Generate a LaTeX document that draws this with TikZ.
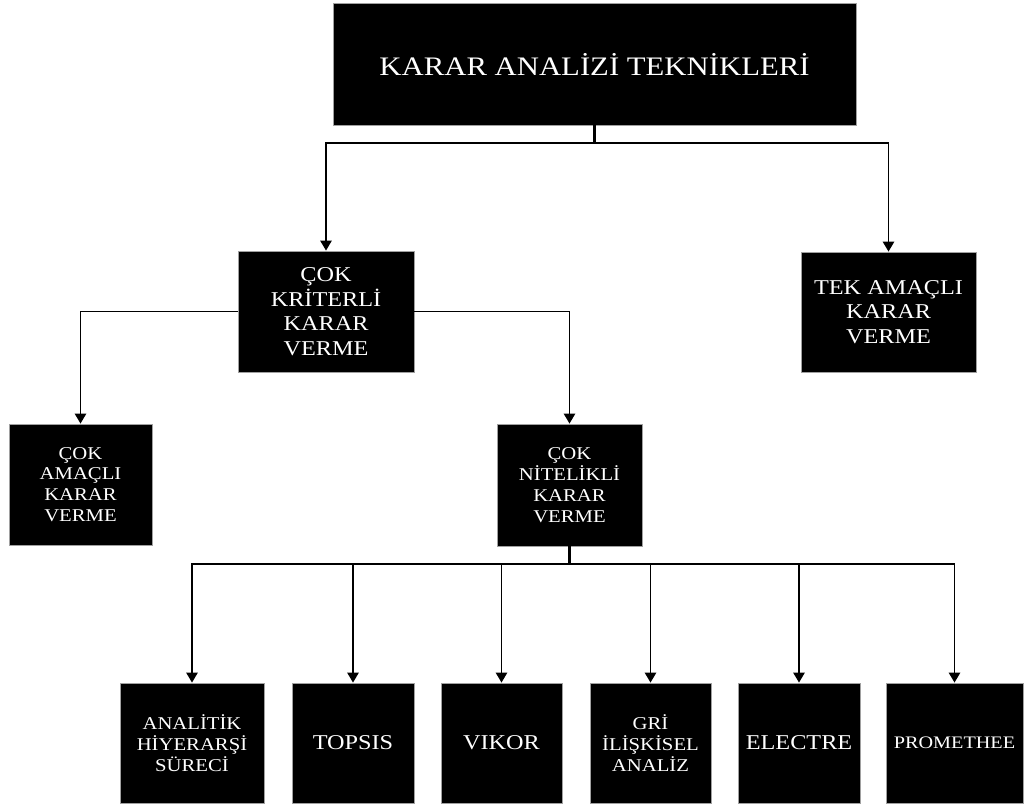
\documentclass[tikz,border=0pt]{standalone}
\usepackage{fontspec}
\setmainfont{Liberation Serif}[FakeStretch=1.15]
\usetikzlibrary{arrows.meta, positioning}
\definecolor{cedge}{HTML}{A0A0A0}
\tikzset{
  every picture/.style={line width=1.1pt},
  box/.style 2 args={fill=black, draw=cedge, line width=0.6pt, text=white, align=center, inner sep=0pt, minimum width=#1, minimum height=#2},
  bigtxt/.style={font=\fontsize{19}{23}\selectfont},
  midtxt/.style={font=\fontsize{15}{17.5}\selectfont},
  smalltxt/.style={font=\fontsize{12.8}{14.8}\selectfont},
  arrow/.style={-{Triangle[length=7pt, width=8pt]}, draw=black, line width=1.1pt},
  trunk/.style={draw=black, line width=1.6pt},
}

\begin{document}
\begin{tikzpicture}[x=0.025cm, y=-0.025cm]
  \useasboundingbox (0,0) rectangle (1024,805);
  % root
  \node[box={13.075cm}{3.05cm}, bigtxt] (root) at (594.5,64) {KARAR ANALİZİ TEKNİKLERİ};
  % second level
  \node[box={4.4cm}{3.025cm}, midtxt] (ckkv) at (326,311.5) {ÇOK\\KRİTERLİ\\KARAR\\VERME};
  \node[box={4.375cm}{3.0cm}, midtxt] (tek) at (888.5,312) {TEK AMAÇLI\\KARAR\\VERME};
  % third level
  \node[box={3.575cm}{3.025cm}, smalltxt] (cokam) at (80.5,484.5) {ÇOK\\AMAÇLI\\KARAR\\VERME};
  \node[box={3.625cm}{3.05cm}, smalltxt] (cnkv) at (569.5,485) {ÇOK\\NİTELİKLİ\\KARAR\\VERME};
  % methods
  \node[box={3.6cm}{3.0cm}, smalltxt] (ahs) at (192,743) {ANALİTİK\\HİYERARŞİ\\SÜRECİ};
  \node[box={3.05cm}{3.0cm}, midtxt] (topsis) at (353,743) {TOPSIS};
  \node[box={3.025cm}{3.0cm}, midtxt] (vikor) at (501.5,743) {VIKOR};
  \node[box={3.025cm}{3.0cm}, smalltxt] (gri) at (650.5,743) {GRİ\\İLİŞKİSEL\\ANALİZ};
  \node[box={3.05cm}{3.0cm}, midtxt] (electre) at (799,743) {ELECTRE};
  \node[box={3.425cm}{3.0cm}, font=\fontsize{12.5}{15}\selectfont] (prom) at (954.5,743) {PROMETHEE};
  % connectors
  \coordinate (split1) at (594.5,143);
  \coordinate (split2) at (569.5,564);
  \draw[trunk] (root.south) -- (split1);
  \draw[arrow] (split1) -| (ckkv.north);
  \draw[arrow] (split1) -| (tek.north);
  \draw[arrow] (ckkv.west) -| (cokam.north);
  \draw[arrow] (ckkv.east) -| (cnkv.north);
  \draw[trunk] (cnkv.south) -- (split2);
  \foreach \m in {ahs, topsis, vikor, gri, electre, prom}
    \draw[arrow] (split2) -| (\m.north);
\end{tikzpicture}
\end{document}
